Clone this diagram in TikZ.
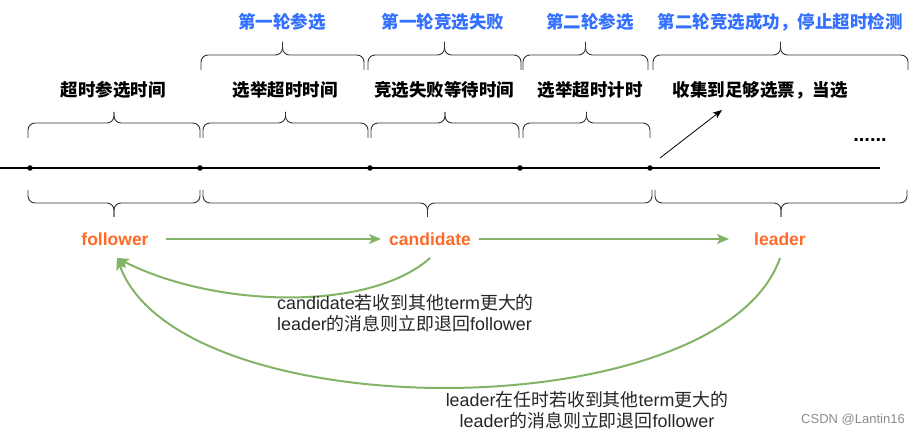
\documentclass[tikz,border=0pt]{standalone}
\usepackage{fontspec}
\setmainfont{Liberation Sans}
\newfontfamily\cjk{Noto Sans CJK SC}
\usetikzlibrary{arrows.meta}
\definecolor{blu}{HTML}{3370FF}
\definecolor{org}{HTML}{FF6A28}
\definecolor{grn}{HTML}{82B366}
\definecolor{brcol}{HTML}{333333}
\newcommand\bracepath[5]{%
  \draw[brc] (#1,#5) -- (#1,#4) -- ({(#1+#2)/2},#4) -- ({(#1+#2)/2},#3);
  \draw[brc] (#2,#5) -- (#2,#4) -- ({(#1+#2)/2},#4) -- ({(#1+#2)/2},#3);}
\begin{document}
\begin{tikzpicture}[x=1pt,y=-1pt,
  bluetxt/.style={font=\fontsize{17.5}{21}\selectfont\bfseries\cjk,text=blu,inner sep=0},
  blktxt/.style={font=\fontsize{17.5}{21}\selectfont\bfseries\cjk,text=black,inner sep=0},
  state/.style={font=\fontsize{17.5}{21}\selectfont\bfseries,text=org,inner sep=0},
  note/.style={font=\fontsize{17.9}{21.5}\selectfont,text=black!85,inner sep=0},
  brc/.style={draw=brcol,line width=0.9pt,rounded corners=7pt},
  dotn/.style={circle,fill=black,inner sep=0,minimum size=5.5pt},
  garr/.style={draw=grn,line width=2pt,-{Stealth[length=12pt,width=10pt,inset=3pt]}},
]
\useasboundingbox (0,0) rectangle (921,435);
% blue row
\node[bluetxt] (r1a) at (282,22) {第一轮参选};
\node[bluetxt] (r1b) at (443,22) {第一轮竞选失败};
\node[bluetxt] (r2a) at (590,22) {第二轮参选};
\node[bluetxt] (r2b) at (780,22) {第二轮竞选成功，停止超时检测};
% top braces
\bracepath{201}{364}{42}{55}{70}
\bracepath{368}{521}{42}{55}{70}
\bracepath{523}{648}{42}{55}{70}
\bracepath{653}{908}{42}{55}{70}
% black row
\node[blktxt] (t1) at (113,90) {超时参选时间};
\node[blktxt] (t2) at (285,90) {选举超时时间};
\node[blktxt] (t3) at (444,90) {竞选失败等待时间};
\node[blktxt] (t4) at (590,90) {选举超时计时};
\node[blktxt] (t5) at (760,90) {收集到足够选票，当选};
% middle braces
\bracepath{28}{200}{112}{123}{138}
\bracepath{203}{368}{112}{123}{138}
\bracepath{371}{519}{112}{123}{138}
\bracepath{523}{650}{112}{123}{138}
% timeline
\coordinate (tl0) at (0,168);
\coordinate (tl1) at (880,168);
\draw[line width=1.3pt] (tl0) -- (tl1);
\node[dotn] (d1) at (30,168) {};
\node[dotn] (d2) at (200,168) {};
\node[dotn] (d3) at (370,168) {};
\node[dotn] (d4) at (520,168) {};
\node[dotn] (d5) at (650,168) {};
\coordinate (atip) at (722,110);
\draw[line width=0.8pt,-{Stealth[length=9pt,width=7pt,inset=2pt]}] ([shift={(10pt,10pt)}]d5.center) -- (atip);
\node[font=\fontsize{20}{22}\selectfont\bfseries,inner sep=0] (dots) at (870,140) {......};
% lower braces
\bracepath{28}{200}{217}{203}{190}
\bracepath{203}{652}{217}{203}{190}
\bracepath{655}{907}{217}{203}{190}
% states
\node[state] (fol) at (115,239) {follower};
\node[state] (cand) at (430,239) {candidate};
\node[state] (lead) at (780,239) {leader};
\draw[garr] ([xshift=17pt]fol.east) -- ([xshift=-8pt]cand.west);
\draw[garr] ([xshift=8pt]cand.east) -- ([xshift=-25pt]lead.west);
% return curves
\coordinate (cs) at (430,258);
\coordinate (ls) at (780,258);
\coordinate (fe) at (117,258);
\draw[garr] (cs) .. controls (370,312) and (215,308) .. (fe);
\draw[garr] (ls) .. controls (720,430) and (180,430) .. (fe);
% notes
\node[note,align=left,anchor=north west] (n1) at (277,294) {candidate{\cjk 若收到其他}term{\cjk 更大的}\\leader{\cjk 的消息则立即退回}follower};
\node[note,align=center,anchor=north] (n2) at (587,391) {leader{\cjk 在任时若收到其他}term{\cjk 更大的}\\leader{\cjk 的消息则立即退回}follower};
\node[font=\fontsize{13}{15}\selectfont,text=black!45,inner sep=0] (wm) at (853,420) {CSDN @Lantin16};
\end{tikzpicture}
\end{document}
